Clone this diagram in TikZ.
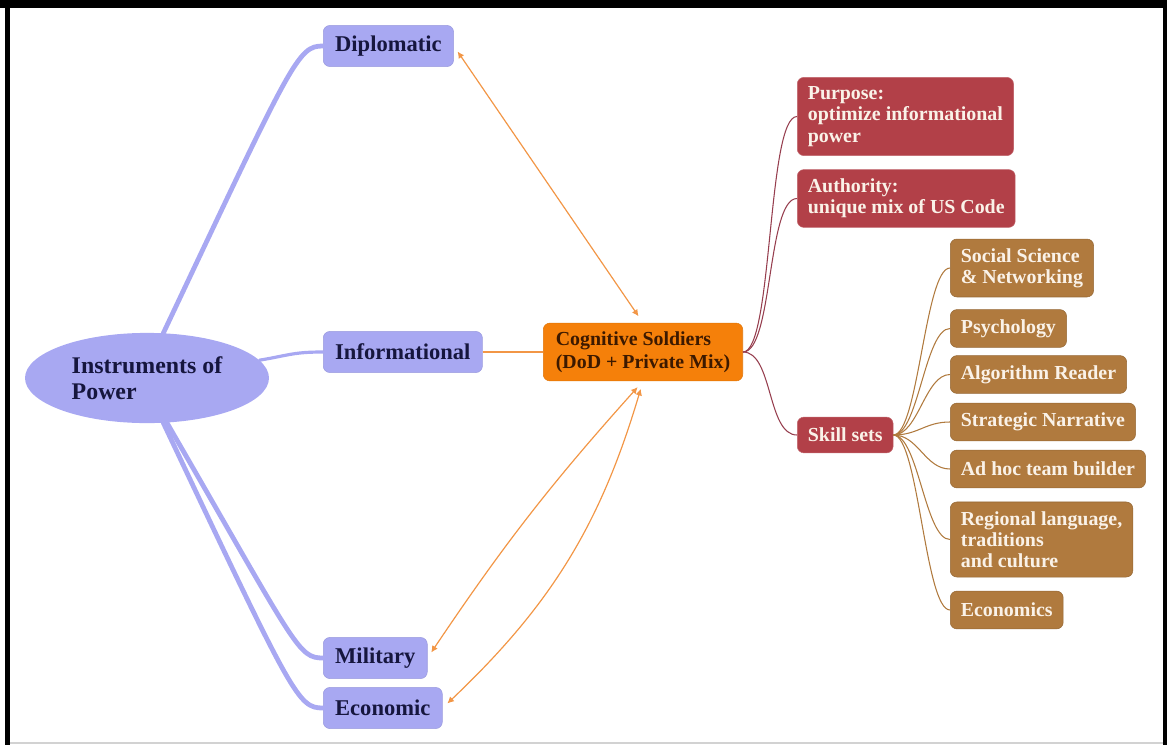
\documentclass[tikz,border=0pt]{standalone}
\usepackage{fontspec}
\setmainfont{Liberation Serif}
\usetikzlibrary{arrows.meta,shapes.geometric}

\definecolor{lav}{RGB}{168,168,242}
\definecolor{lavtext}{RGB}{22,22,62}
\definecolor{coghub}{RGB}{245,128,10}
\definecolor{cogtext}{RGB}{60,25,0}
\definecolor{arroworange}{RGB}{242,150,70}
\definecolor{redfill}{RGB}{178,64,72}
\definecolor{redline}{RGB}{150,62,78}
\definecolor{brownfill}{RGB}{176,122,62}
\definecolor{cream}{RGB}{250,242,232}

\begin{document}
\begin{tikzpicture}[x=0.0265cm, y=0.0265cm,
  instr/.style={rectangle, rounded corners=5pt, fill=lav, draw=lav!92!black,
    text=lavtext, font=\fontsize{17}{20}\selectfont\bfseries,
    inner xsep=9pt, minimum height=31pt},
  hub/.style={rectangle, rounded corners=5pt, fill=coghub, draw=coghub!92!black,
    text=cogtext, font=\fontsize{15}{17}\selectfont\bfseries, align=left,
    inner xsep=9.5pt, inner ysep=6.5pt},
  redbox/.style={rectangle, rounded corners=5pt, fill=redfill, draw=redfill!80!white,
    text=cream, font=\fontsize{15}{16}\selectfont\bfseries, align=left,
    inner xsep=8pt, inner ysep=7pt},
  skillbox/.style={rectangle, rounded corners=5pt, fill=brownfill, draw=brownfill!85!black,
    text=cream, font=\fontsize{15}{16}\selectfont\bfseries, align=left,
    inner xsep=8pt, inner ysep=7pt, minimum height=28.5pt},
  rootline/.style={draw=lav, line width=3.6pt, line cap=round},
  twoway/.style={draw=arroworange, line width=0.9pt,
    {Latex[length=5pt,width=5pt]}-{Latex[length=5pt,width=5pt]},
    shorten <=6pt, shorten >=5pt},
  redlink/.style={draw=redline, line width=0.8pt},
  skilllink/.style={draw=brownfill, line width=0.8pt}]

\useasboundingbox (0,0) rectangle (1167,-745);

% frame
\fill[black] (0,0) rectangle (1167,-8);
\fill[black] (5,0) rectangle (10,-745);
\fill[black] (1163,0) rectangle (1167,-745);
\draw[gray!35, line width=1pt] (10,-743) -- (1163,-743);

% instruments
\node[ellipse, fill=lav, text=lavtext, minimum width=184pt, minimum height=68pt,
  inner sep=0pt, align=left, font=\fontsize{18}{20}\selectfont\bfseries]
  (root) at (147,-378) {Instruments of\\Power};
\node[instr, anchor=west] (dip) at (323,-46) {Diplomatic};
\node[instr, anchor=west] (inf) at (323,-352) {Informational};
\node[instr, anchor=west] (mil) at (323,-658) {Military};
\node[instr, anchor=west] (eco) at (323,-708) {Economic};

% cognitive soldiers
\node[hub, anchor=west] (cog) at (543,-352) {Cognitive Soldiers\\(DoD + Private Mix)};
\node[redbox, anchor=west] (purp) at (797,-116.5) {Purpose:\\optimize informational\\power};
\node[redbox, anchor=west] (auth) at (797,-198.5) {Authority:\\unique mix of US Code};
\node[redbox, anchor=west, inner ysep=4pt, minimum height=27pt] (skill) at (797,-435) {Skill sets};

\node[skillbox, anchor=west] (soc) at (950,-268) {Social Science\\\& Networking};
\node[skillbox, anchor=west] (psy) at (950,-328.5) {Psychology};
\node[skillbox, anchor=west] (alg) at (950,-374.5) {Algorithm Reader};
\node[skillbox, anchor=west] (str) at (950,-422) {Strategic Narrative};
\node[skillbox, anchor=west] (adh) at (950,-469) {Ad hoc team builder};
\node[skillbox, anchor=west] (reg) at (950,-539.5) {Regional language,\\traditions\\and culture};
\node[skillbox, anchor=west] (ecs) at (950,-610) {Economics};

% branches
\draw[rootline] (root.70) .. controls +(130,275) and +(-25,0) .. (dip.west);
\draw[rootline, line width=2.4pt] (root.9) .. controls +(30,5) and +(-30,0) .. (inf.west);
\draw[rootline] (root.-66) .. controls +(130,-225) and +(-25,0) .. (mil.west);
\draw[rootline] (root.-70) .. controls +(130,-275) and +(-25,0) .. (eco.west);

\draw[draw=arroworange, line width=1.4pt] (inf.east) -- (cog.west);
\draw[twoway] (cog.north) -- (dip.east);
\draw[twoway] (cog.south) to[bend right=4] (mil.east);
\draw[twoway] (cog.south) to[bend left=15] (eco.east);

\foreach \b in {purp,auth,skill}
  \draw[redlink] (cog.east) .. controls +(30,0) and +(-30,0) .. (\b.west);
\foreach \b in {soc,psy,alg,str,adh,reg,ecs}
  \draw[skilllink] (skill.east) .. controls +(25,0) and +(-25,0) .. (\b.west);

\end{tikzpicture}
\end{document}
